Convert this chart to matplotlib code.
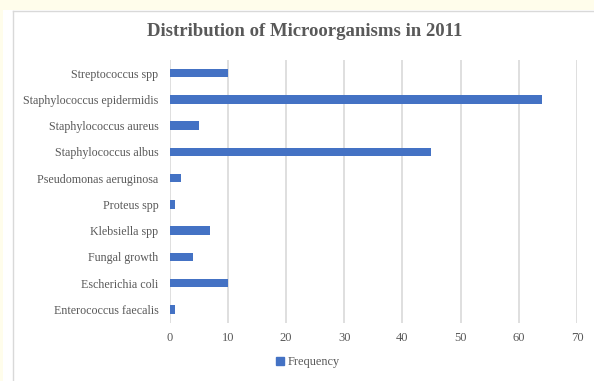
import matplotlib
matplotlib.use("Agg")
import matplotlib.pyplot as plt
from matplotlib.patches import Rectangle
from matplotlib.lines import Line2D

categories = [
    "Streptococcus spp",
    "Staphylococcus epidermidis",
    "Staphylococcus aureus",
    "Staphylococcus albus",
    "Pseudomonas aeruginosa",
    "Proteus spp",
    "Klebsiella spp",
    "Fungal growth",
    "Escherichia coli",
    "Enterococcus faecalis",
]
frequency = [10, 64, 5, 45, 2, 1, 7, 4, 10, 1]
x_ticks = [0, 10, 20, 30, 40, 50, 60, 70]

W, H = 594, 381
fig = plt.figure(figsize=(W / 100, H / 100), dpi=100)
fig.patch.set_facecolor("#FFFDEB")

# white chart panel with a light frame on the left and top
panel = Rectangle((3 / W, 0), 1 - 3 / W, 1 - 10 / H, transform=fig.transFigure,
                  facecolor="white", edgecolor="none", zorder=-5)
fig.patches.append(panel)
fig.lines.append(Line2D([13 / W, 13 / W], [0, 1 - 11 / H], transform=fig.transFigure,
                        color="#D9D9D9", lw=1.0, zorder=-4))
fig.lines.append(Line2D([13 / W, 1], [1 - 11 / H, 1 - 11 / H], transform=fig.transFigure,
                        color="#D9D9D9", lw=1.0, zorder=-4))

left, right = 169.5, 577
top, bottom = 60, 322.5
ax = fig.add_axes([left / W, 1 - bottom / H, (right - left) / W, (bottom - top) / H])
ax.set_facecolor("none")

serif = ["Liberation Serif", "DejaVu Serif"]
text_col = "#595959"

ypos = list(range(len(categories)))[::-1]
ax.barh(ypos, frequency, height=0.32, color="#4472C4", zorder=3, label="Frequency")

ax.set_xlim(0, 70)
ax.set_ylim(-0.5, len(categories) - 0.5)
ax.set_xticks(x_ticks)
ax.set_xticklabels([str(t) for t in x_ticks], family=serif, fontsize=9, color=text_col)
ax.set_yticks(ypos)
ax.set_yticklabels(categories, family=serif, fontsize=8.65, color=text_col)
ax.tick_params(length=0, pad=8)
ax.tick_params(axis="x", pad=7)
ax.grid(axis="x", color="#D9D9D9", lw=1.2, zorder=0)
for s in ax.spines.values():
    s.set_visible(False)

fig.text(305 / W, 1 - 32 / H, "Distribution of Microorganisms in 2011", family=serif,
         fontsize=13.5, fontweight="bold", color=text_col, ha="center", va="center")

leg = fig.legend(handles=[Rectangle((0, 0), 1, 1, color="#4472C4")], labels=["Frequency"],
                 loc="center", bbox_to_anchor=(308 / W, 1 - 362 / H), frameon=False,
                 handlelength=0.6, handleheight=0.6, handletextpad=0.3,
                 prop={"family": serif, "size": 8.8})
for t in leg.get_texts():
    t.set_color(text_col)

fig.savefig("out.png", dpi=100, facecolor=fig.get_facecolor())
